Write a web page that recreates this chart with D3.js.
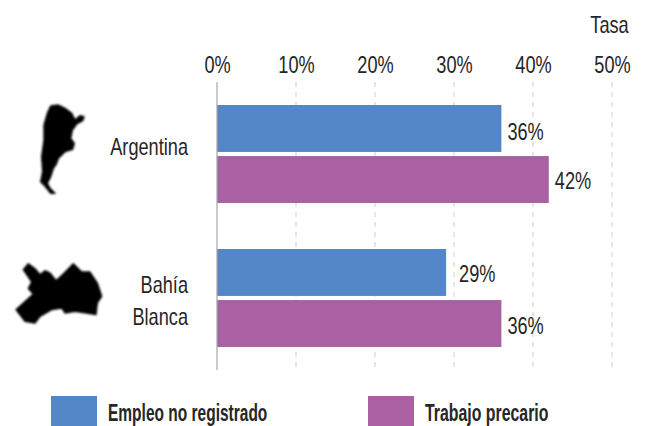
<!DOCTYPE html>
<html>
<head>
<meta charset="utf-8">
<script src="https://cdn.jsdelivr.net/npm/d3@7"></script>
<style>
body { margin: 0; background: #fff; }
text { font-family: "Liberation Sans", sans-serif; fill: #262626; }
</style>
</head>
<body>
<script>
var categories = ["Argentina", "Bahía Blanca"];
var seriesNames = ["Empleo no registrado", "Trabajo precario"];
var empleoNoRegistrado = [36, 29];
var trabajoPrecario = [42, 36];
var tickValues = [0, 10, 20, 30, 40, 50];
var colors = ["#5487c8", "#a961a3"];

// outlines, in 3x crop coordinates
var argentinaShape = [[62,18],[85,15],[105,25],[125,40],[135,60],[150,47],[162,50],[158,62],[140,72],[127,90],[122,115],[133,130],[128,148],[105,155],[85,175],[80,190],[70,205],[62,230],[52,250],[60,265],[75,280],[62,280],[45,258],[32,245],[38,215],[35,170],[42,120],[42,75],[52,40]];
var bahiaShape = [[55,17],[75,32],[90,50],[105,38],[120,45],[138,68],[160,48],[190,17],[215,42],[240,42],[262,75],[275,115],[262,135],[258,170],[230,165],[195,160],[165,165],[155,150],[125,155],[90,175],[75,195],[45,190],[18,155],[70,108],[55,92],[65,72],[40,35]];

var svgWidth = 646, svgHeight = 426;
var svg = d3.select("body").append("svg").attr("width", svgWidth).attr("height", svgHeight).style("display", "block");

var defs = svg.append("defs");
defs.append("filter").attr("id", "soft").append("feGaussianBlur").attr("stdDeviation", 2.5);

// the only condensed look available: squeeze the text sideways
function label(px, py, str, anchor, sx) {
  return svg.append("text")
      .attr("transform", "translate(" + px + "," + py + ") scale(" + (sx || 0.79) + ",1)")
      .attr("text-anchor", anchor || "start")
      .style("font-size", "23px")
      .text(str);
}

// x stuff
var x = d3.scaleLinear().domain([0, 50]).range([217, 612]);
// y stuff
var y = d3.scaleBand().domain(categories).range([82, 370]);
var ySeries = d3.scaleBand().domain([0, 1]).range([23, 121]).paddingInner(0.08);

// dashed grid
svg.selectAll(".grid").data(tickValues.slice(1)).enter().append("line")
    .attr("class", "grid")
    .attr("x1", d => x(d)).attr("x2", d => x(d))
    .attr("y1", 82).attr("y2", 370)
    .attr("stroke", "#cfcfcf").attr("stroke-dasharray", "5,5");

// axis labels
var axis = d3.axisTop(x).tickValues(tickValues).tickFormat(d => d + "%").tickSize(0).tickPadding(0);
var axisG = svg.append("g").attr("transform", "translate(0,73)").call(axis);
axisG.select(".domain").remove();
axisG.selectAll("text")
    .attr("transform", "scale(0.79,1)")
    .style("font-size", "23px")
    .style("font-family", "'Liberation Sans', sans-serif");

label(609.5, 33, "Tasa", "middle");

// bars
[empleoNoRegistrado, trabajoPrecario].forEach(function(values, s) {
  svg.selectAll(".bar" + s).data(values).enter().append("rect")
      .attr("class", "bar" + s)
      .attr("x", x(0))
      .attr("y", (d, i) => y(categories[i]) + ySeries(s))
      .attr("width", d => x(d) - x(0))
      .attr("height", ySeries.bandwidth())
      .attr("fill", colors[s]);
  values.forEach(function(d, i) {
    // top two labels sit a little off centre in the original
    var nudge = i == 0 ? (s == 0 ? 2 : -1) : 0;
    label(x(d) + (d == 29 ? 13 : 6), y(categories[i]) + ySeries(s) + ySeries.bandwidth() / 2 + 10 + nudge, d + "%");
  });
});

// y axis line
svg.append("line").attr("x1", x(0)).attr("x2", x(0)).attr("y1", 82).attr("y2", 370).attr("stroke", "#a6a6a6").attr("stroke-width", 1.2);

// category labels
label(188, 155, "Argentina", "end");
label(188, 293, "Bahía", "end");
label(188, 325, "Blanca", "end");

// silhouettes
var line = d3.line().curve(d3.curveLinearClosed);
[[argentinaShape, 30, 100], [bahiaShape, 10, 258]].forEach(function(s) {
  svg.append("g").attr("transform", "translate(" + s[1] + "," + s[2] + ") scale(0.3333)")
    .append("path").attr("d", line(s[0]))
      .attr("fill", "#000").attr("stroke", "#000").attr("stroke-width", 4)
      .attr("stroke-linejoin", "round").attr("filter", "url(#soft)");
});

// legend
var legendX = [51, 368];
seriesNames.forEach(function(name, i) {
  svg.append("rect").attr("x", legendX[i]).attr("y", 396).attr("width", 46).attr("height", 30).attr("fill", colors[i]);
  label(legendX[i] + 57, 421, name, "start", i == 0 ? 0.674 : 0.69).style("font-weight", "bold");
});
</script>
</body>
</html>
